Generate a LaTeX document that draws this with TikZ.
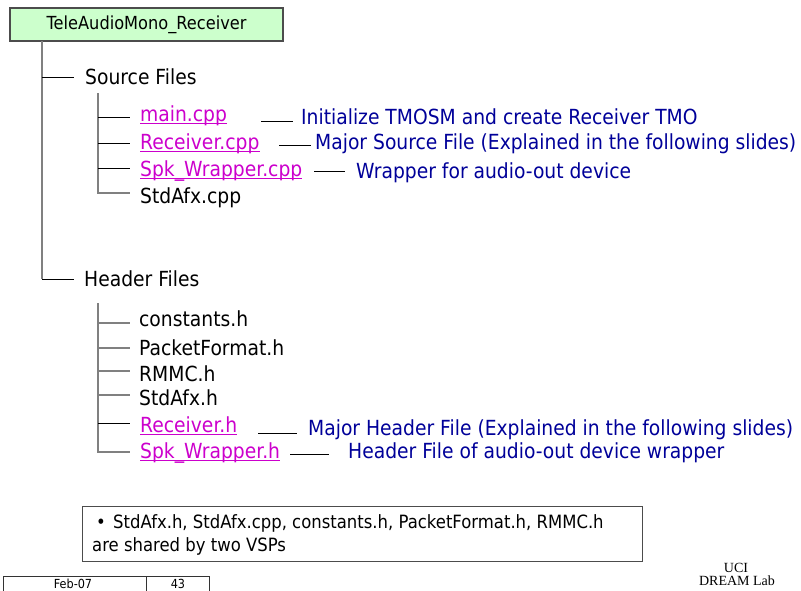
\documentclass[tikz,border=0pt]{standalone}
\usepackage{fontspec}
\setmainfont{DejaVu Sans}[FakeStretch=0.9]
\newfontfamily\labfont{Liberation Serif}
\definecolor{leaf}{RGB}{204,255,204}
\definecolor{treegray}{RGB}{128,128,128}
\definecolor{linkpink}{RGB}{204,0,204}
\definecolor{notenavy}{RGB}{0,0,153}
\tikzset{
  x=1pt, y=-1pt,
  rootbox/.style={draw=black!70, line width=1.2pt, fill=leaf, minimum width=273pt,
    minimum height=33pt, inner sep=0pt, font=\fontsize{18}{20}\selectfont},
  item/.style={anchor=base west, inner sep=0pt, font=\fontsize{20.8}{23}\selectfont},
  linkitem/.style={item, text=linkpink},
  remark/.style={item, text=notenavy},
  trunk/.style={draw=treegray, line width=1.5pt},
  twig/.style={draw=black, line width=1pt},
  notebox/.style={draw=black!70, line width=1pt},
  notetext/.style={anchor=base west, inner sep=0pt, font=\fontsize{18.3}{21}\selectfont},
  foot/.style={draw=black!80, line width=1pt},
  foottext/.style={anchor=base, inner sep=0pt, font=\fontsize{12.5}{14}\selectfont},
  labtext/.style={anchor=base, inner sep=0pt, font=\labfont\fontsize{14}{16}\selectfont},
}
\newcommand{\underlinenode}[1]{\draw[linkpink, line width=1pt]
  ([yshift=-2.2pt]#1.base west) -- ([yshift=-2.2pt]#1.base east);}
\begin{document}
\begin{tikzpicture}
\useasboundingbox (0,0) rectangle (801,590);

% root of the project tree
\node[rootbox] (root) at (146.5,24.5) {TeleAudioMono\_Receiver};

% first level
\node[item] (src) at (85,84) {Source Files};
\node[item] (hdr) at (84,286) {Header Files};
\coordinate (t0) at (42,41);
\coordinate (tS) at (42,77);
\coordinate (tH) at (42,279);
\draw[trunk] (t0) -- (tH);
\draw[twig] (tS) -- (74,77);
\draw[twig] (tH) -- (74,279);

% source files
\node[linkitem] (maincpp) at (140,121) {main.cpp};
\node[linkitem] (reccpp) at (140,149) {Receiver.cpp};
\node[linkitem] (spkcpp) at (140,176) {Spk\_Wrapper.cpp};
\node[item] (stdcpp) at (140,203) {StdAfx.cpp};
\underlinenode{maincpp}
\underlinenode{reccpp}
\underlinenode{spkcpp}
\coordinate (s0) at (98,93);
\coordinate (s1) at (98,117);
\coordinate (s2) at (98,143);
\coordinate (s3) at (98,168);
\coordinate (s4) at (98,193);
\draw[trunk] (s0) -- (s4) -- (130,193);
\draw[twig] (s1) -- (130,117);
\draw[twig] (s2) -- (130,143);
\draw[twig] (s3) -- (130,168);

% remarks on source files
\node[remark] (rmain) at (301,124) {Initialize TMOSM and create Receiver TMO};
\node[remark] (rrec) at (315,149) {Major Source File (Explained in the following slides)};
\node[remark] (rspk) at (356,178) {Wrapper for audio-out device};
\coordinate (am) at (261,121);
\coordinate (ar) at (279,145);
\coordinate (as) at (314,171);
\draw[twig] (am) -- (293,121);
\draw[twig] (ar) -- (311,145);
\draw[twig] (as) -- (345,171);

% header files
\node[item] (consth) at (139,326) {constants.h};
\node[item] (pfh) at (139,355) {PacketFormat.h};
\node[item] (rmmch) at (139,381) {RMMC.h};
\node[item] (stdh) at (139,405) {StdAfx.h};
\node[linkitem] (rech) at (140,432) {Receiver.h};
\node[linkitem] (spkh) at (140,458) {Spk\_Wrapper.h};
\underlinenode{rech}
\underlinenode{spkh}
\coordinate (h0) at (98,303);
\coordinate (h1) at (98,323);
\coordinate (h2) at (98,348);
\coordinate (h3) at (98,371);
\coordinate (h4) at (98,395);
\coordinate (h5) at (98,423);
\coordinate (h6) at (98,452);
\draw[trunk] (h0) -- (h6) -- (130,452);
\draw[trunk] (h1) -- (130,323);
\draw[trunk] (h2) -- (130,348);
\draw[trunk] (h3) -- (130,371);
\draw[trunk] (h4) -- (130,395);
\draw[twig] (h5) -- (130,423);

% remarks on header files
\node[remark] (rrech) at (308,435) {Major Header File (Explained in the following slides)};
\node[remark] (rspkh) at (348,458) {Header File of audio-out device wrapper};
\coordinate (bh) at (258,433);
\coordinate (bs) at (290,454);
\draw[twig] (bh) -- (297,433);
\draw[twig] (bs) -- (329,454);

% shared-files note
\draw[notebox] (82,506) rectangle (642,561);
\node[notetext] (nbul) at (96,528) {•};
\node[notetext] (n1) at (113,528) {StdAfx.h, StdAfx.cpp, constants.h, PacketFormat.h, RMMC.h};
\node[notetext] (n2) at (92,551) {are shared by two VSPs};

% footer
\draw[foot] (3,595) -- (3,576) -- (209,576) -- (209,595);
\draw[foot] (146,576) -- (146,595);
\node[foottext] (date) at (73,588) {Feb-07};
\node[foottext] (page) at (178,588) {43};
\node[labtext] (uci) at (736,572) {UCI};
\node[labtext] (lab) at (737,585) {DREAM Lab};
\end{tikzpicture}
\end{document}
